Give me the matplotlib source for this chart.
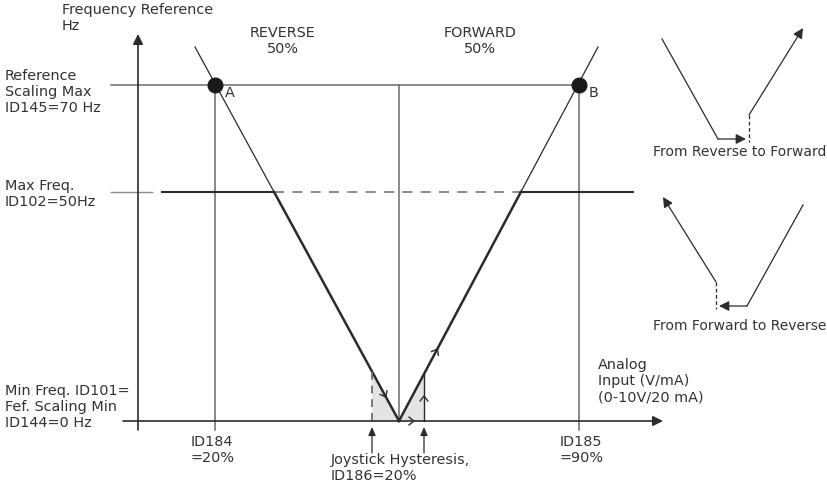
import matplotlib
matplotlib.use('Agg')
import matplotlib.pyplot as plt
import numpy as np
from matplotlib.patches import Polygon

plt.rcParams['font.family'] = ['DejaVu Sans']

W, H = 828, 487
INK = '#2b2b2b'
GRAY = '#6a6a6a'
TXT = '#333333'
FS = 10.4
LS = 1.2

# ---- diagram geometry (diagram units, y grows downward) ----
y_axis_x = 138
y_axis_span = [430, 34]
x_axis_y = 421
x_axis_span = [123, 663]
ref_max_y = 85
ref_max_span = [111, 579]
max_freq_y = 192
max_freq_left_stub = [111, 152]
max_freq_solid_left = [162, 274]
max_freq_solid_right = [521, 633]
id184_x = 215
id185_x = 579
center_x = 399
marker_bottom = 430
hyst_x = [372, 424]

# V-shaped characteristic: (x, y) nodes
v_left_x = [195, 399]
v_left_y = [47, 421]
v_right_x = [399, 598]
v_right_y = [421, 47]

# labels
point_labels = ['A', 'B']

fig = plt.figure(figsize=(W / 100, H / 100), dpi=100)
ax = fig.add_axes([0, 0, 1, 1])
ax.set_xlim(0, W)
ax.set_ylim(H, 0)
ax.axis('off')


def arrow(x0, y0, x1, y1, lw=1.0, color=INK, hl=0.6, hw=0.3, ms=10):
    ax.annotate('', xy=(x1, y1), xytext=(x0, y0),
                arrowprops=dict(arrowstyle=f'-|>,head_length={hl},head_width={hw}',
                                lw=lw, color=color, shrinkA=0, shrinkB=0,
                                mutation_scale=ms))


def chevron(x, y, dx, dy, size=7, ang=38, lw=1.0, color=INK):
    d = np.array([dx, dy], float)
    d /= np.hypot(*d)
    for s in (1, -1):
        a = np.deg2rad(s * ang)
        r = np.array([[np.cos(a), -np.sin(a)], [np.sin(a), np.cos(a)]]) @ (-d)
        ax.plot([x, x + size * r[0]], [y, y + size * r[1]], color=color, lw=lw,
                solid_capstyle='butt')


def x_at_y(xs, ys, y):
    order = np.argsort(ys)
    return np.interp(y, np.array(ys)[order], np.array(xs)[order])


def y_at_x(xs, ys, x):
    order = np.argsort(xs)
    return np.interp(x, np.array(xs)[order], np.array(ys)[order])


# hysteresis shading
yl = y_at_x(v_left_x, v_left_y, hyst_x[0])
yr = y_at_x(v_right_x, v_right_y, hyst_x[1])
poly = Polygon([(hyst_x[0], x_axis_y), (hyst_x[0], yl), (center_x, x_axis_y),
                (hyst_x[1], yr), (hyst_x[1], x_axis_y)], closed=True,
               facecolor='#e4e4e4', edgecolor='none', zorder=0)
ax.add_patch(poly)

# axes
arrow(y_axis_x, y_axis_span[0], y_axis_x, y_axis_span[1], lw=1.2)
arrow(x_axis_span[0], x_axis_y, x_axis_span[1], x_axis_y, lw=1.2)

# reference max horizontal
ax.plot(ref_max_span, [ref_max_y] * 2, color=GRAY, lw=1.1)
# verticals
ax.plot([id184_x] * 2, [ref_max_y, marker_bottom], color=GRAY, lw=1.1)
ax.plot([id185_x] * 2, [ref_max_y, marker_bottom], color=GRAY, lw=1.1)
ax.plot([center_x] * 2, [ref_max_y, x_axis_y], color=GRAY, lw=1.1)

# max freq line
ax.plot(max_freq_left_stub, [max_freq_y] * 2, color='#8a8a8a', lw=1.0)
ax.plot(max_freq_solid_left, [max_freq_y] * 2, color=INK, lw=1.5)
ax.plot([max_freq_solid_left[1], max_freq_solid_right[0]], [max_freq_y] * 2,
        color='#777777', lw=1.2, dashes=(6, 5))
ax.plot(max_freq_solid_right, [max_freq_y] * 2, color=INK, lw=1.5)

# V characteristic: thin above max freq, thick below
xl_mf = x_at_y(v_left_x, v_left_y, max_freq_y)
xr_mf = x_at_y(v_right_x, v_right_y, max_freq_y)
ax.plot([v_left_x[0], xl_mf], [v_left_y[0], max_freq_y], color=INK, lw=0.9)
ax.plot([xl_mf, v_left_x[1]], [max_freq_y, v_left_y[1]], color=INK, lw=1.8)
ax.plot([v_right_x[0], xr_mf], [v_right_y[0], max_freq_y], color=INK, lw=1.8)
ax.plot([xr_mf, v_right_x[1]], [max_freq_y, v_right_y[1]], color=INK, lw=0.9)

# hysteresis verticals
ax.plot([hyst_x[0]] * 2, [yl, x_axis_y], color='#777777', lw=1.4, dashes=(4, 3))
ax.plot([hyst_x[1]] * 2, [yr, x_axis_y], color=INK, lw=1.0)

# chevrons
chevron(x_at_y(v_left_x, v_left_y, 397), 397,
        v_left_x[1] - v_left_x[0], v_left_y[1] - v_left_y[0])
chevron(x_at_y(v_right_x, v_right_y, 349), 349,
        v_right_x[1] - v_right_x[0], v_right_y[1] - v_right_y[0])
chevron(414, x_axis_y, 1, 0)
chevron(hyst_x[1], 396, 0, -1)

# points A and B
ax.plot([id184_x, id185_x], [ref_max_y] * 2, 'o', color='#1a1a1a', ms=10.5, zorder=5)
ax.text(id184_x + 10, ref_max_y + 1, point_labels[0], color=TXT, fontsize=FS, va='top')
ax.text(id185_x + 10, ref_max_y + 1, point_labels[1], color=TXT, fontsize=FS, va='top')

# hysteresis pointer arrows
for hx in hyst_x:
    arrow(hx, 453, hx, 427, lw=0.9, hl=0.5, hw=0.22, ms=10)

# ---- texts ----
kw = dict(color=TXT, fontsize=FS, va='top', linespacing=LS)
ax.text(62, 3, 'Frequency Reference\nHz', **kw)
ax.text(283, 26, 'REVERSE\n50%', ha='center', **kw)
ax.text(480, 26, 'FORWARD\n50%', ha='center', **kw)
ax.text(5, 69, 'Reference\nScaling Max\nID145=70 Hz', **kw)
ax.text(5, 179, 'Max Freq.\nID102=50Hz', **kw)
ax.text(5, 384, 'Min Freq. ID101=\nFef. Scaling Min\nID144=0 Hz', **kw)
ax.text(191, 435, 'ID184\n=20%', **kw)
ax.text(331, 453, 'Joystick Hysteresis,\nID186=20%', **kw)
ax.text(560, 435, 'ID185\n=90%', **kw)
ax.text(598, 358, 'Analog\nInput (V/mA)\n(0-10V/20 mA)', **kw)
ax.text(826, 145, 'From Reverse to Forward', ha='right', color=TXT, fontsize=10.0, va='top')
ax.text(826, 319, 'From Forward to Reverse', ha='right', color=TXT, fontsize=10.0, va='top')

# ---- right-hand icons ----
# Reverse -> Forward
icon1_x = [662, 718]
icon1_y = [39, 139]
ax.plot(icon1_x, icon1_y, color=INK, lw=0.9)
arrow(718, 139, 746, 139, lw=0.9)
ax.plot([749, 749], [115, 142], color=INK, lw=0.9, dashes=(3, 2))
arrow(749, 115, 803, 28, lw=0.9)

# Forward -> Reverse
icon2_x = [803, 747]
icon2_y = [205, 306]
ax.plot(icon2_x, icon2_y, color=INK, lw=0.9)
arrow(747, 306, 719, 306, lw=0.9)
ax.plot([716, 716], [282, 309], color=INK, lw=0.9, dashes=(3, 2))
arrow(716, 282, 663, 197, lw=0.9)

fig.savefig('out.png', dpi=100)
